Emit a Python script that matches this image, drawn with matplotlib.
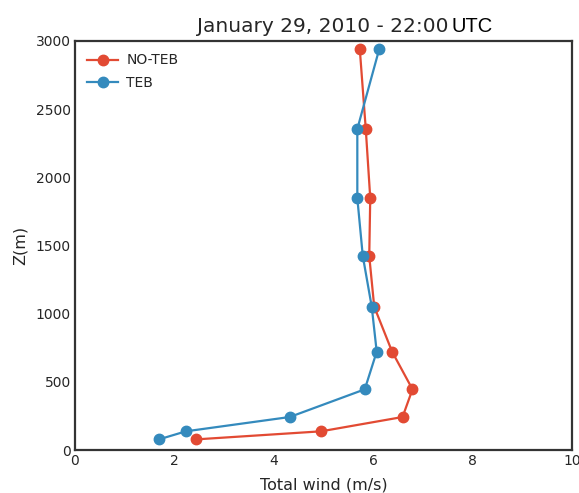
import matplotlib
matplotlib.use("Agg")
import matplotlib.pyplot as plt

# Vertical profiles of total wind speed
heights = [78, 137, 242, 445, 721, 1051, 1423, 1848, 2354, 2939]
wind_noteb = [2.44, 4.95, 6.59, 6.79, 6.38, 6.02, 5.92, 5.94, 5.85, 5.73]
wind_teb = [1.69, 2.23, 4.32, 5.83, 6.07, 5.97, 5.79, 5.68, 5.68, 6.12]

series_labels = ["NO-TEB", "TEB"]
series_colors = ["#E24A33", "#348ABD"]

xticks = [0, 2, 4, 6, 8, 10]
yticks = [0, 500, 1000, 1500, 2000, 2500, 3000]

plt.rcParams["font.family"] = ["DejaVu Sans"]

fig = plt.figure(figsize=(5.79, 4.93), dpi=100)
ax = fig.add_axes([0.1295, 0.0872, 0.8585, 0.8298])

for vals, lab, col in zip([wind_noteb, wind_teb], series_labels, series_colors):
    ax.plot(vals, heights, "-o", color=col, label=lab, lw=1.6, ms=7.5)

ax.set_xlim(0, 10)
ax.set_ylim(0, 3000)
ax.set_xticks(xticks)
ax.set_yticks(yticks)
ax.tick_params(length=0, labelsize=10, colors="#262626", pad=3)
for s in ax.spines.values():
    s.set_color("#333333")
    s.set_linewidth(1.6)

ax.set_xlabel("Total wind (m/s)", fontsize=11.5, color="#262626", labelpad=7)
ax.set_ylabel("Z(m)", fontsize=11.5, color="#262626", labelpad=6)

fig.text(0.341, 0.935, "January 29, 2010 - 22:00", fontsize=14.5, color="#262626",
         ha="left", va="baseline")
fig.text(0.780, 0.935, "UTC", fontsize=14.5, color="black",
         family=["Liberation Sans"], ha="left", va="baseline")

leg = ax.legend(loc="upper left", frameon=False, fontsize=10, handlelength=2.2,
                borderaxespad=0.5, labelspacing=0.6, handletextpad=0.6)
for t in leg.get_texts():
    t.set_color("#262626")

fig.savefig("out.png", dpi=100)
